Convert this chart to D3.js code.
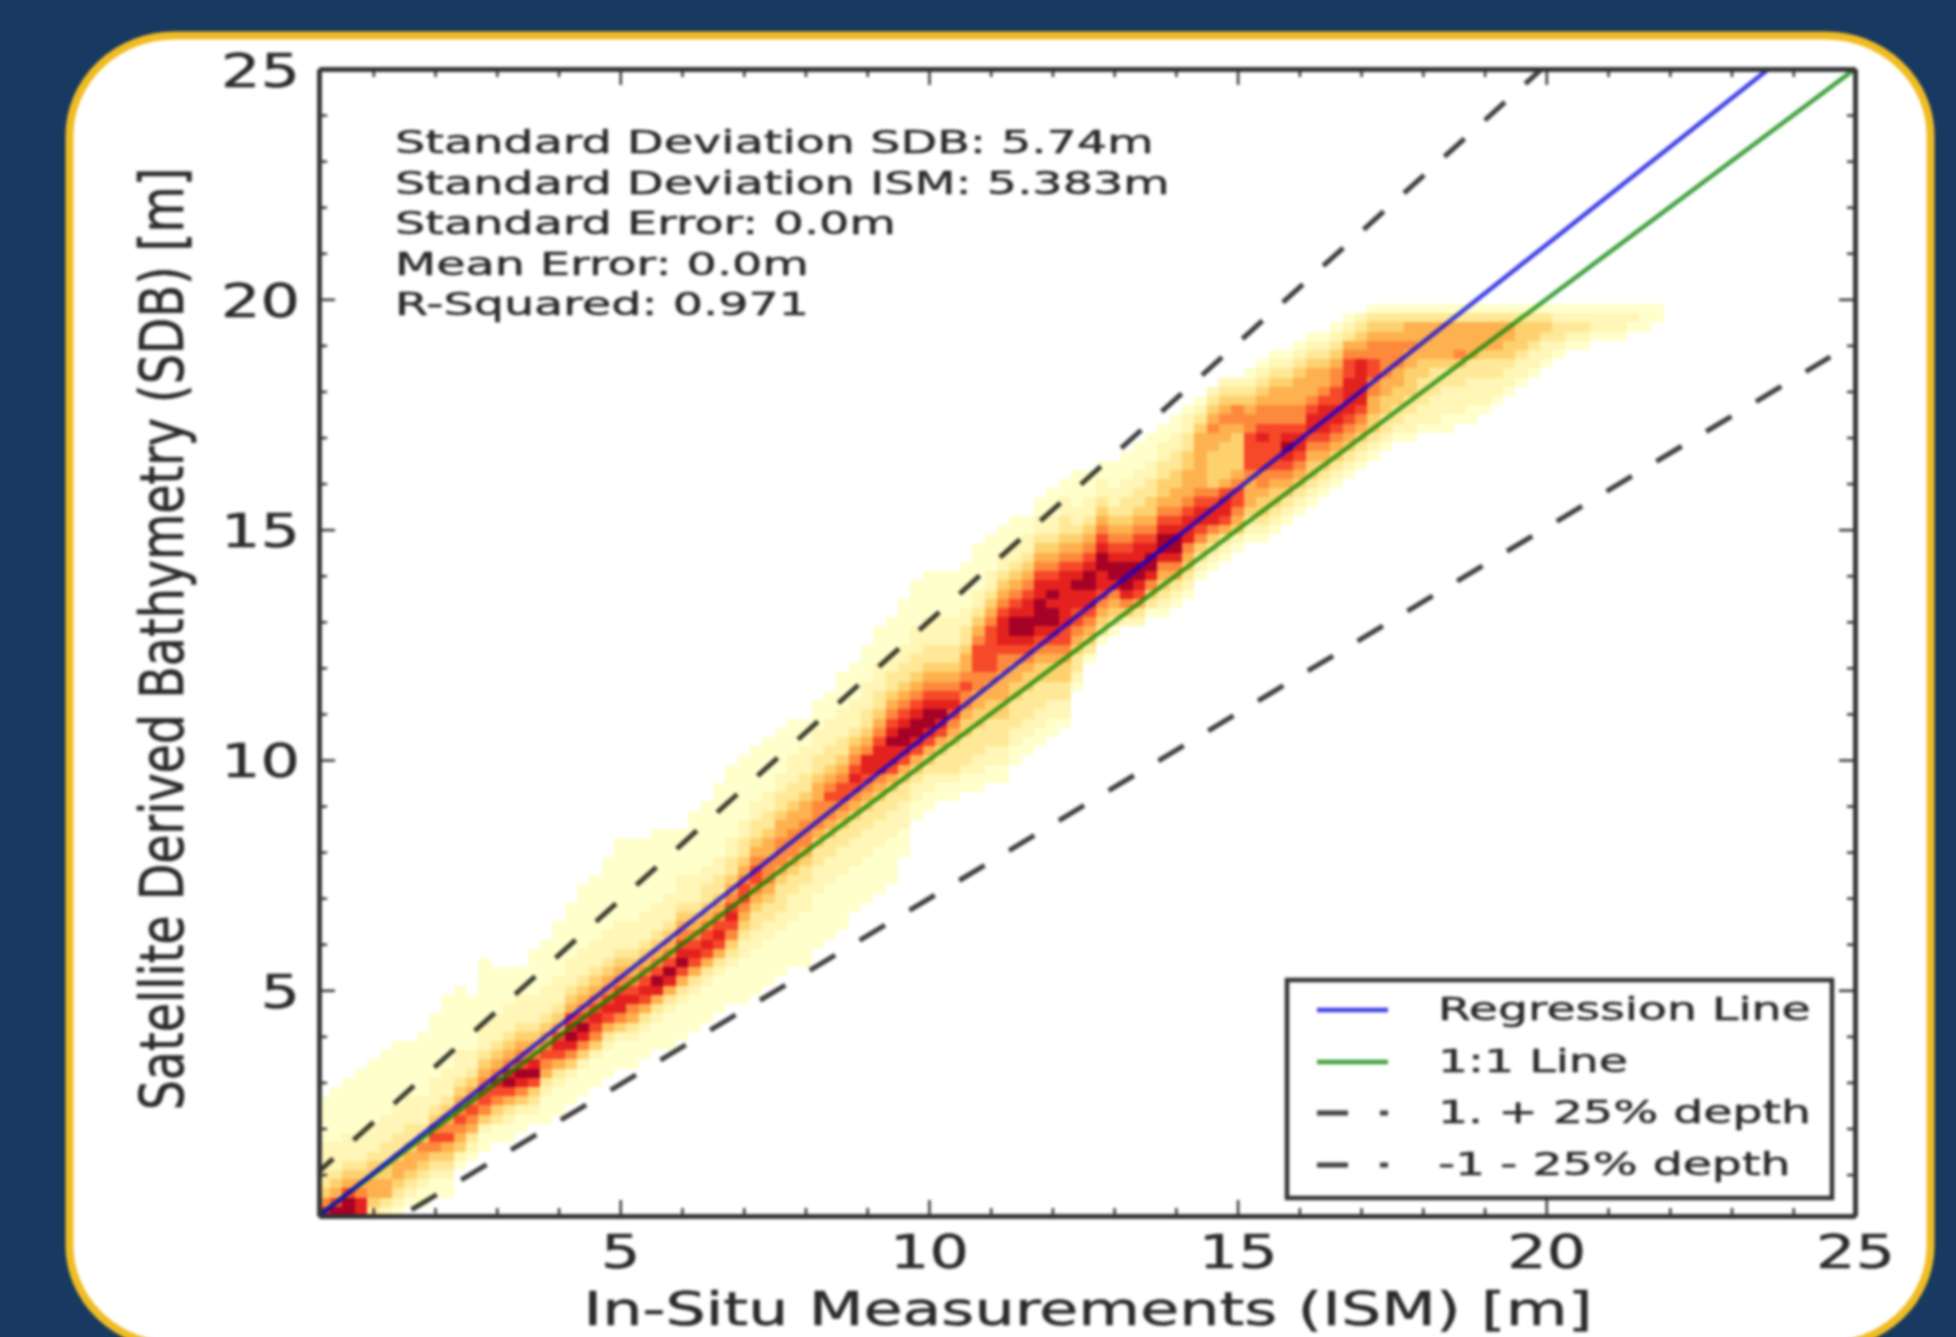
<!DOCTYPE html>
<html>
<head>
<meta charset="utf-8">
<title>SDB vs ISM</title>
<script src="https://cdn.jsdelivr.net/npm/d3@7"></script>
<style>
body { margin: 0; background: #183a62; }
svg { display: block; }
text { font-family: "DejaVu Sans", sans-serif; fill: #2a2a2a; stroke: #2a2a2a; stroke-width: 0.5px; }
</style>
</head>
<body>
<script>
//tick values on both axes
var majorTicks = [5, 10, 15, 20, 25];
var minorTicks = [1, 2, 3, 4, 6, 7, 8, 9, 11, 12, 13, 14, 16, 17, 18, 19, 21, 22, 23, 24];

//axis labels and the text block
var xTitle = "In-Situ Measurements (ISM) [m]";
var yTitle = "Satellite Derived Bathymetry (SDB) [m]";
var statLines = ["Standard Deviation SDB: 5.74m", "Standard Deviation ISM: 5.383m", "Standard Error: 0.0m", "Mean Error: 0.0m", "R-Squared: 0.971"];
var legendLabels = ["Regression Line", "1:1 Line", "1. + 25% depth", "-1 - 25% depth"];

//line end points
var regressionX = [0.12, 23.6], regressionY = [0.1, 25];
var oneToOneX = [0.1, 25], oneToOneY = [0.1, 25];
var upperX = [0.12, 19.95], upperY = [1.07, 25.03];
var lowerX = [1.45, 24.6], lowerY = [0.1, 18.75];

//density grid, one entry per column of 0.2 m bins, first bin starts at 0.1
//colStart is the index of the lowest filled bin in the column
//colLevels holds the colour level of each bin going upwards (1 palest, 9 darkest)
var binSize = 0.2, binOrigin = 0.1;
var colStart = [0,0,0,0,0,0,0,1,1,2,2,5,6,7,8,8,9,10,10,11,12,13,14,15,16,16,17,18,18,19,20,21,22,23,23,24,25,26,27,27,
    29,30,31,33,34,35,36,39,43,44,45,45,46,46,47,47,49,50,51,52,53,57,60,62,63,64,64,65,65,66,67,69,70,71,72,73,73,74,75,76,
    77,78,79,80,81,82,83,84,84,85,85,85,86,86,87,88,89,90,91,92,93,94,94,95,95,95,96,96,97];
var colLevels = [
    "8643322211111", "97543222111111", "997543222111111", "8865432221111111", "34554432221111111",
    "235544332221111111", "1234554332221111111", "123455433222111111", "1123456432221111111", "11234676432221111111",
    "1123457654322211111111", "12456765432221111111", "123567654322111111", "112467765432221111111", "1134678654322211111",
    "1123579865432221111", "112468976543222111", "1234798654322211111", "11123567654322211111", "111235787543222111111",
    "1112468987543222111111", "11124689765432221111111", "11124678765432221111111", "111235787654322211111111", "1112468876543222111111111",
    "1112356876543222111111111", "111235787654322211111111", "111235897654322211111111", "111123589765432221111111", "11112357987654322211111",
    "111123578765432221111111", "111123578765433221111111", "1111235787654332211111111", "11112346787654332211111111", "111112234567765433221111111",
    "111112233456776543322111111", "111112233456665543322111111", "111112233345666554332211111", "111112223345666554332221111", "111111222334566655433222111",
    "111111222334566655433222111", "111111222334566765433222111", "1111112223345677654332221111", "111112223345678765432221111", "1111122233456788654332221111",
    "11111222334568887654332221111", "11111222334578898765433221111", "1112223345789987654332211111", "11223457899876543322211111", "11223457899876543322211111",
    "1123345789876543322211111", "1123334567876543322211111", "1123334456676554332211111", "112233344556677765432211111", "112233344556777776543221111",
    "1122333445556678887654322111", "112233344556789987654322111", "11223334456789988765432211", "112233344567899988765432211", "112233445678998987654322111",
    "122334456778888887654332211", "123345677889876543221111", "134567889987654322111", "13456788998765432211", "1345689987654322111",
    "2468999876543322111", "23578998876543322111", "13468998765443322111", "123456899876544332211", "123568998765544332211",
    "123456888765554433221", "12346788765555554321", "12346887644445565432", "12357887544445565432", "1245677654444566432",
    "1234555677776654321", "12344566777876654321", "12344567777766554321", "1234567898766554321", "1234567887665554321",
    "1234456788765554321", "123456788876554321", "123456788776654321", "123456788887765321", "12345678888865432",
    "12344556677665431", "1233445566665431", "123344556665431", "122334445565531", "12233344555531",
    "12223334555531", "11222334555531", "1222334655531", "1122233555531", "122233455531",
    "12233455531", "1223445531", "122344431", "12234431", "1223431",
    "123321", "12321", "12321", "1221", "1221",
    "1221", "121", "111", "11"
];

//begin script when window loads
window.onload = setChart();

function setChart(){

    var width = 1956,
        height = 1337;

    //plot frame in page pixels
    var left = 319, right = 1855, top = 69, bottom = 1216;

    var svg = d3.select("body")
        .append("svg")
        .attr("width", width)
        .attr("height", height);

    svg.append("defs").append("clipPath")
        .attr("id", "plotClip")
        .append("rect")
        .attr("x", left)
        .attr("y", top)
        .attr("width", right - left)
        .attr("height", bottom - top);

    //navy page behind the card
    svg.append("rect")
        .attr("width", width)
        .attr("height", height)
        .attr("fill", "#183a62");

    //everything on the card gets a small blur, the source image is soft
    var chart = svg.append("g").style("filter", "blur(1.5px)");

    chart.append("rect")
        .attr("x", 69.5)
        .attr("y", 35.5)
        .attr("width", 1861)
        .attr("height", 1310)
        .attr("rx", 105)
        .attr("ry", 100)
        .attr("fill", "#ffffff")
        .attr("stroke", "#f0bc24")
        .attr("stroke-width", 8);

    var x = d3.scaleLinear().domain([0.12, 25]).range([left, right]);
    var y = d3.scaleLinear().domain([0.1, 25]).range([bottom, top]);

    //levels are not evenly spaced along the colour ramp
    var levelT = d3.scaleLinear()
        .domain([1, 2, 3, 4, 5, 6, 7, 8, 9])
        .range([0, 0.06, 0.15, 0.27, 0.38, 0.5, 0.64, 0.74, 0.92]);
    var levelColor = function(level){ return d3.interpolateYlOrRd(levelT(level)); };

    setDensity(chart, x, y, levelColor);
    setLines(chart, x, y);
    setAxes(chart, x, y, left, right, top, bottom);
    setLabels(chart);
    setLegend(chart);
}

//draw the density bins as rects, column by column
function setDensity(chart, x, y, levelColor){
    var cells = [];
    colLevels.forEach(function(levels, i){
        levels.split("").forEach(function(level, k){
            cells.push({col: i, row: colStart[i] + k, level: +level});
        });
    });

    chart.append("g")
        .attr("clip-path", "url(#plotClip)")
        .selectAll(".bin")
        .data(cells)
        .enter()
        .append("rect")
        .attr("class", "bin")
        .attr("x", function(d){ return x(binOrigin + d.col * binSize); })
        .attr("y", function(d){ return y(binOrigin + (d.row + 1) * binSize); })
        .attr("width", x(binSize) - x(0))
        .attr("height", y(0) - y(binSize))
        .attr("shape-rendering", "crispEdges")
        .attr("fill", function(d){ return levelColor(d.level); });
}

function setLines(chart, x, y){
    var series = [
        {xs: upperX, ys: upperY, color: "#000000", dash: "27,27.4", offset: 7.9, w: 5},
        {xs: lowerX, ys: lowerY, color: "#000000", dash: "29.5,28.6", offset: 46, w: 5},
        {xs: oneToOneX, ys: oneToOneY, color: "#008000", dash: null, offset: 0, w: 4.5},
        {xs: regressionX, ys: regressionY, color: "#0000e0", dash: null, offset: 0, w: 4.5}
    ];
    var line = d3.line()
        .x(function(d){ return x(d[0]); })
        .y(function(d){ return y(d[1]); });

    chart.append("g")
        .attr("clip-path", "url(#plotClip)")
        .selectAll(".fit")
        .data(series)
        .enter()
        .append("path")
        .attr("class", "fit")
        .attr("d", function(d){ return line(d3.zip(d.xs, d.ys)); })
        .attr("fill", "none")
        .attr("stroke", function(d){ return d.color; })
        .attr("stroke-opacity", 0.75)
        .attr("stroke-width", function(d){ return d.w; })
        .attr("stroke-dasharray", function(d){ return d.dash; })
        .attr("stroke-dashoffset", function(d){ return d.offset; });
}

function setAxes(chart, x, y, left, right, top, bottom){
    var major = 16, minor = 8;

    function drawAxis(axisFn, scale, tx, ty, size, values){
        var g = chart.append("g")
            .attr("transform", "translate(" + tx + "," + ty + ")")
            .call(axisFn(scale).tickValues(values).tickSize(size).tickSizeOuter(0).tickFormat(""));
        g.select(".domain").attr("stroke", "#333").attr("stroke-width", 4.5);
        g.selectAll(".tick line").attr("stroke", "#333").attr("stroke-width", 2.5);
        return g;
    }

    //minor and major ticks point inwards on all four sides
    drawAxis(d3.axisBottom, x, 0, bottom, -minor, minorTicks);
    drawAxis(d3.axisTop, x, 0, top, -minor, minorTicks);
    drawAxis(d3.axisLeft, y, left, 0, -minor, minorTicks);
    drawAxis(d3.axisRight, y, right, 0, -minor, minorTicks);
    drawAxis(d3.axisTop, x, 0, top, -major, majorTicks);
    drawAxis(d3.axisRight, y, right, 0, -major, majorTicks);

    var bottomAxis = chart.append("g")
        .attr("transform", "translate(0," + bottom + ")")
        .call(d3.axisBottom(x).tickValues(majorTicks).tickSize(-major).tickSizeOuter(0));
    var leftAxis = chart.append("g")
        .attr("transform", "translate(" + left + ",0)")
        .call(d3.axisLeft(y).tickValues(majorTicks).tickSize(-major).tickSizeOuter(0));

    [bottomAxis, leftAxis].forEach(function(g){
        g.select(".domain").attr("stroke", "#333").attr("stroke-width", 4.5);
        g.selectAll(".tick line").attr("stroke", "#333").attr("stroke-width", 2.5);
        g.selectAll("text").style("font-size", "46px").attr("fill", null);
    });

    bottomAxis.selectAll("text")
        .attr("y", 0)
        .attr("dy", null)
        .attr("transform", "translate(0,52) scale(1.35,1)");
    leftAxis.selectAll("text")
        .attr("x", 0)
        .attr("dy", null)
        .attr("text-anchor", "end")
        .attr("transform", "translate(-19,17) scale(1.35,1)");
}

function setLabels(chart){
    chart.append("text")
        .attr("transform", "translate(1088,1325) scale(1.38,1)")
        .attr("text-anchor", "middle")
        .style("font-size", "46px")
        .text(xTitle);

    chart.append("text")
        .attr("transform", "translate(183,639) scale(1.28,1) rotate(-90)")
        .attr("text-anchor", "middle")
        .style("font-size", "47.6px")
        .text(yTitle);

    chart.selectAll(".stat")
        .data(statLines)
        .enter()
        .append("text")
        .attr("class", "stat")
        .attr("transform", function(d, i){
            return "translate(395," + (153 + i * 40.6) + ") scale(1.49,1)";
        })
        .style("font-size", "32px")
        .text(function(d){ return d; });
}

function setLegend(chart){
    var legend = chart.append("g");
    var rowY = [1010, 1062, 1113, 1165];
    var handles = [
        {color: "#0000e0", dash: null, w: 4.5},
        {color: "#008000", dash: null, w: 4.5},
        {color: "#000000", dash: "31,32", w: 5},
        {color: "#000000", dash: "31,32", w: 5}
    ];

    legend.append("rect")
        .attr("x", 1287)
        .attr("y", 980)
        .attr("width", 545)
        .attr("height", 218)
        .attr("fill", "#ffffff")
        .attr("stroke", "#333")
        .attr("stroke-width", 4.5);

    legendLabels.forEach(function(label, i){
        legend.append("line")
            .attr("x1", 1317)
            .attr("x2", 1388)
            .attr("y1", rowY[i])
            .attr("y2", rowY[i])
            .attr("stroke", handles[i].color)
            .attr("stroke-opacity", 0.75)
            .attr("stroke-width", handles[i].w)
            .attr("stroke-dasharray", handles[i].dash);

        legend.append("text")
            .attr("transform", "translate(1438," + (rowY[i] + 10) + ") scale(1.48,1)")
            .style("font-size", "32px")
            .text(label);
    });
}
</script>
</body>
</html>
